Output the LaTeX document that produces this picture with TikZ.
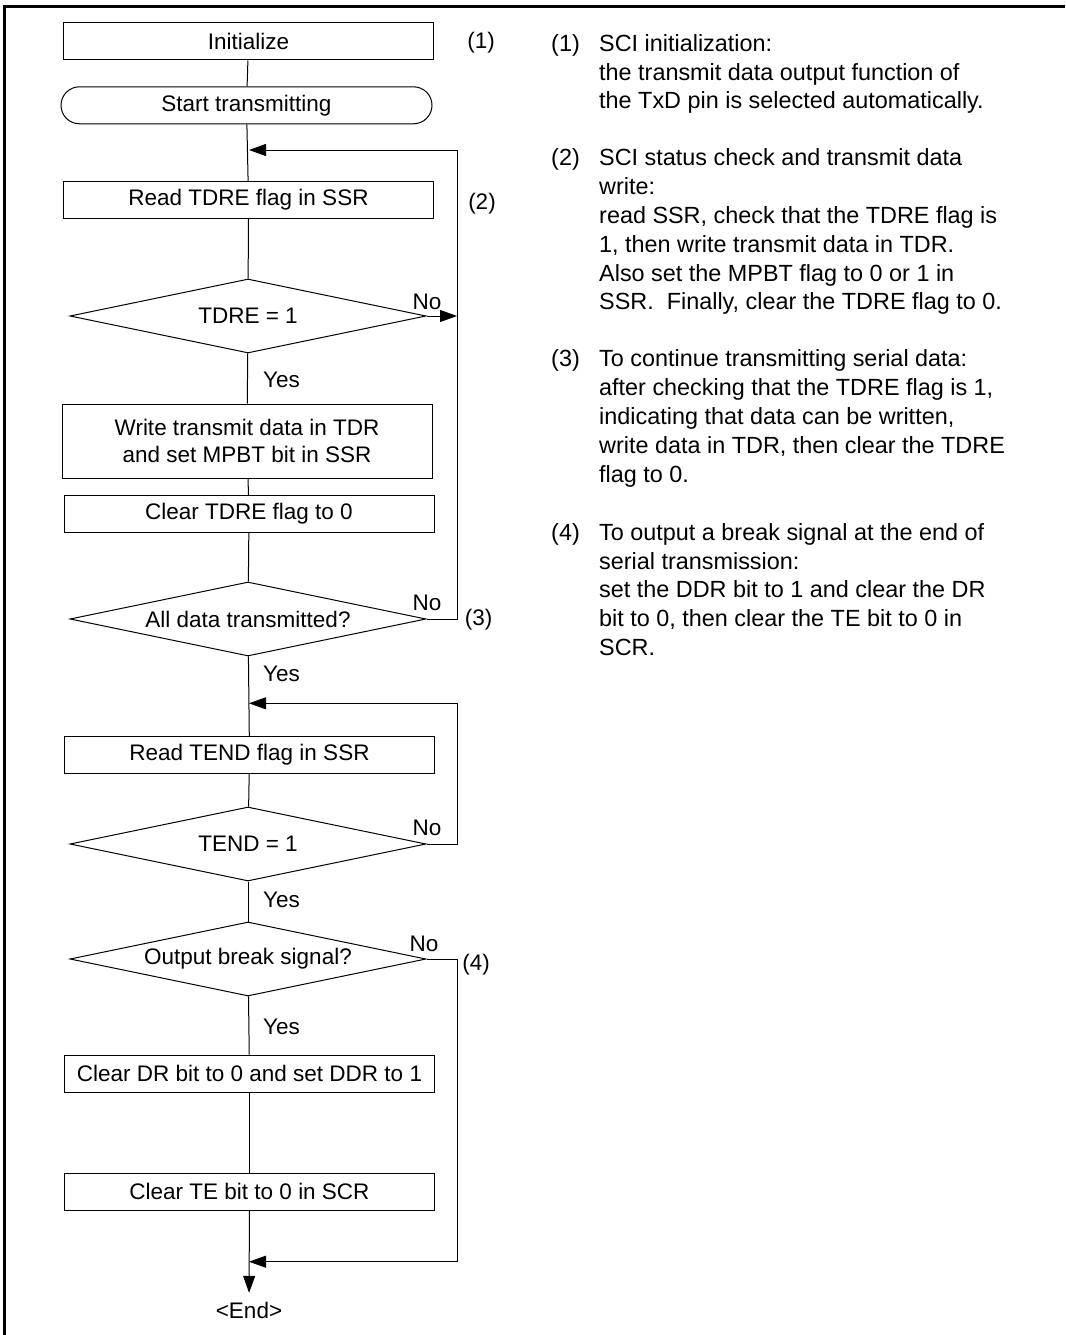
\documentclass[tikz,border=0pt]{standalone}
\usepackage{fontspec}
\setmainfont{Liberation Sans}
\usetikzlibrary{shapes.geometric,arrows.meta}
\begin{document}
\begin{tikzpicture}[x=1pt,y=-1pt,
  every node/.style={font=\fontsize{22.5}{26.5}\selectfont},
  procbox/.style={draw, line width=1pt, minimum width=370pt, minimum height=37pt, inner sep=0pt, align=center},
  termbox/.style={procbox, rounded corners=18.5pt},
  decbox/.style={draw, diamond, aspect=4.8, line width=1pt, minimum width=356pt, minimum height=74pt, inner sep=0pt},
  flow/.style={line width=1pt},
  flowarr/.style={line width=1pt, -{Triangle[length=17pt,width=12pt]}},
  lbl/.style={inner sep=0pt},
  yeslbl/.style={inner sep=0pt, anchor=west},
  notelab/.style={inner sep=0pt, anchor=base west, font=\fontsize{23.4}{28.8}\selectfont},
  note/.style={inner sep=0pt, anchor=north west, align=left, font=\fontsize{23.4}{28.8}\selectfont},
]
\useasboundingbox (0,0) rectangle (1065,1335);
\draw[line width=2.8pt] (4.8,1335) -- (4.8,6.5) -- (1065,6.5);

% flowchart nodes
\node[procbox] (init) at (248.5,41.5) {Initialize};
\node[termbox, minimum width=371pt] (start) at (246.5,105.3) {Start transmitting};
\node[procbox] (read1) at (248.5,200) {Read TDRE flag in SSR};
\node[decbox] (d1) at (248,316) {TDRE = 1};
\node[procbox, minimum height=74pt] (write) at (247,441) {Write transmit data in TDR\\and set MPBT bit in SSR};
\node[procbox] (clear1) at (249,514) {Clear TDRE flag to 0};
\node[decbox] (d2) at (248,619) {All data transmitted?};
\node[procbox] (read2) at (249.5,755) {Read TEND flag in SSR};
\node[decbox] (d3) at (248,844) {TEND = 1};
\node[decbox] (d4) at (248,959) {Output break signal?};
\node[procbox] (clrdr) at (249.5,1073.7) {Clear DR bit to 0 and set DDR to 1};
\node[procbox] (clrte) at (249.5,1191.7) {Clear TE bit to 0 in SCR};
\node[inner xsep=2pt, inner ysep=8.7pt] (endn) at (249,1310) {<End>};

% merge points and loop corners
\coordinate (m1) at (249,150);
\coordinate (loop1) at (457,150);
\coordinate (m2) at (249,703.3);
\coordinate (loop2) at (457,703.3);
\coordinate (m3) at (249,1261.7);
\coordinate (loop3) at (457,1261.7);

% connectors
\draw[flow] (init) -- (start);
\draw[flow] (start) -- (read1);
\draw[flow] (read1) -- (d1);
\draw[flow] (d1) -- (write);
\draw[flow] (write) -- (clear1);
\draw[flow] (clear1) -- (d2);
\draw[flowarr] (d1.east) -- (d1.east -| loop1);
\draw[flowarr] (d2.east) -| (loop1) -- (m1);
\draw[flow] (d2) -- (read2);
\draw[flow] (read2) -- (d3);
\draw[flowarr] (d3.east) -| (loop2) -- (m2);
\draw[flow] (d3) -- (d4);
\draw[flow] (d4) -- (clrdr);
\draw[flow] (clrdr) -- (clrte);
\draw[flowarr] (d4.east) -| (loop3) -- (m3);
\draw[flowarr] (clrte) -- (endn);

% labels
\node[lbl] (no1) at (427,301.7) {No};
\node[lbl] (no2) at (427,603.3) {No};
\node[lbl] (no3) at (427,828.3) {No};
\node[lbl] (no4) at (424,944.3) {No};
\node[yeslbl] (yes1) at (263,380) {Yes};
\node[yeslbl] (yes2) at (263,674) {Yes};
\node[yeslbl] (yes3) at (263,900) {Yes};
\node[yeslbl] (yes4) at (263,1026.7) {Yes};
\node[lbl] (s1) at (481,43) {(1)};
\node[lbl] (s2) at (482,203.3) {(2)};
\node[lbl] (s3) at (478.6,620) {(3)};
\node[lbl] (s4) at (476,965) {(4)};

% notes
\node[notelab] (n1lab) at (551,51.1) {(1)};
\node[note] (n1) at (599,30.94) {\strut SCI initialization:\\the transmit data output function of\\the TxD pin is selected automatically.};
\node[notelab] (n2lab) at (551,165.7) {(2)};
\node[note] (n2) at (599,145.54) {\strut SCI status check and transmit data\\write:\\read SSR, check that the TDRE flag is\\1, then write transmit data in TDR.\\Also set the MPBT flag to 0 or 1 in\\SSR.\ \ Finally, clear the TDRE flag to 0.};
\node[notelab] (n3lab) at (551,366.7) {(3)};
\node[note] (n3) at (599,346.54) {\strut To continue transmitting serial data:\\after checking that the TDRE flag is 1,\\indicating that data can be written,\\write data in TDR, then clear the TDRE\\flag to 0.};
\node[notelab] (n4lab) at (551,540.1) {(4)};
\node[note] (n4) at (599,519.94) {\strut To output a break signal at the end of\\serial transmission:\\set the DDR bit to 1 and clear the DR\\bit to 0, then clear the TE bit to 0 in\\SCR.};
\end{tikzpicture}
\end{document}
